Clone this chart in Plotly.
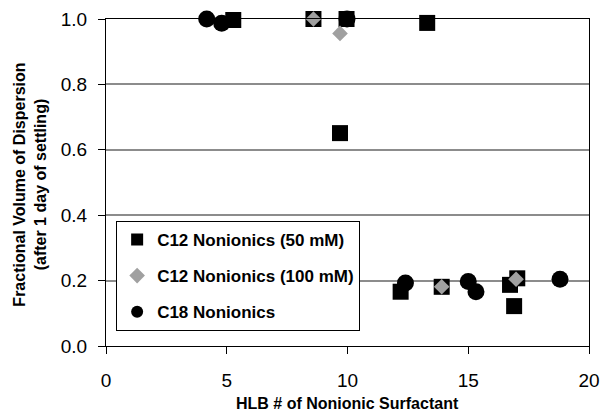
import plotly.graph_objects as go

# Data
c12_50_x = [5.27, 8.59, 9.96, 13.3, 9.69, 12.2, 13.9, 16.73, 17.03, 16.9]
c12_50_y = [0.997, 1.0, 1.0, 0.988, 0.651, 0.166, 0.181, 0.187, 0.207, 0.122]

c12_100_x = [8.59, 9.69, 13.9, 16.98]
c12_100_y = [1.0, 0.956, 0.181, 0.204]

c18_x = [4.17, 4.79, 9.98, 12.4, 15.0, 15.32, 18.8]
c18_y = [1.0, 0.987, 1.0, 0.193, 0.197, 0.166, 0.204]

x_ticks = [0, 5, 10, 15, 20]
y_ticks = [0.0, 0.2, 0.4, 0.6, 0.8, 1.0]
y_tick_text = ["0.0", "0.2", "0.4", "0.6", "0.8", "1.0"]

FONT = "Liberation Sans, Arial, sans-serif"

fig = go.Figure()
fig.add_trace(go.Scatter(
    x=c12_50_x, y=c12_50_y, mode="markers", name="<b>C12 Nonionics (50 mM)</b>",
    legendgroup="a",
    marker=dict(symbol="square", size=16, color="black"), cliponaxis=False))
fig.add_trace(go.Scatter(
    x=c12_100_x, y=c12_100_y, mode="markers", name="<b>C12 Nonionics (100 mM)</b>",
    legendgroup="b",
    marker=dict(symbol="diamond", size=12, color="#a0a0a0"), cliponaxis=False))
fig.add_trace(go.Scatter(
    x=c18_x, y=c18_y, mode="markers", name="<b>C18 Nonionics</b>",
    legendgroup="c",
    marker=dict(symbol="circle", size=17, color="black"), cliponaxis=False))

fig.update_layout(
    width=604, height=418,
    margin=dict(l=106, r=15, t=19, b=72),
    paper_bgcolor="white", plot_bgcolor="white",
    font=dict(family=FONT, color="black"),
    showlegend=True,
    legend=dict(
        x=0.021, y=0.046, xanchor="left", yanchor="bottom",
        bgcolor="white", bordercolor="black", borderwidth=1,
        font=dict(size=17, family=FONT, color="black"),
        tracegroupgap=11, itemsizing="constant",
    ),
    xaxis=dict(
        range=[0, 20], tickvals=x_ticks, ticktext=[str(v) for v in x_ticks],
        showgrid=False, zeroline=False, automargin=False,
        showline=True, linecolor="black", linewidth=1, mirror=True,
        ticks="outside", ticklen=7, tickcolor="black", ticklabelstandoff=10,
        tickfont=dict(size=19, family=FONT, color="black"),
    ),
    yaxis=dict(
        range=[0, 1.0], tickvals=y_ticks, ticktext=y_tick_text,
        showgrid=True, gridcolor="#8c8c8c", gridwidth=1.5, zeroline=False,
        automargin=False,
        showline=True, linecolor="black", linewidth=1, mirror=True,
        ticks="outside", ticklen=7, tickcolor="black", ticklabelstandoff=7,
        tickfont=dict(size=19, family=FONT, color="black"),
    ),
    annotations=[
        dict(text="<b>HLB # of Nonionic Surfactant</b>", xref="paper", yref="paper",
             x=0.5, y=-0.175, xanchor="center", yanchor="middle", showarrow=False,
             font=dict(size=16, family=FONT, color="black")),
        dict(text="<b>Fractional Volume of Dispersion<br>(after 1 day of settling)</b>",
             xref="paper", yref="paper", x=-0.157, y=0.494, xanchor="center", yanchor="middle",
             textangle=-90, showarrow=False,
             font=dict(size=16, family=FONT, color="black")),
    ],
)

fig.write_html("out.html", config={"displayModeBar": False},
               post_script="document.body.style.margin='0';")
